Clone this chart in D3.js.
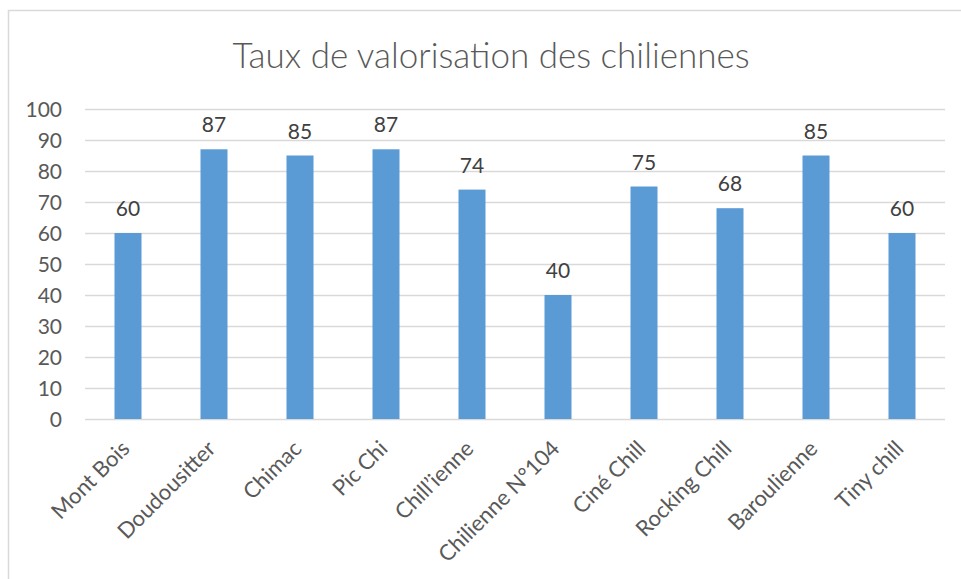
<!DOCTYPE html>
<html><head><meta charset="utf-8">
<script src="https://cdn.jsdelivr.net/npm/d3@7"></script>
<style>body{margin:0;background:#fff;} svg{display:block;}</style>
</head><body>
<svg id="chart" width="961" height="579"></svg>
<script>
const title = "Taux de valorisation des chiliennes";
const categories = ["Mont Bois","Doudousitter","Chimac","Pic Chi","Chill’ienne","Chilienne N°104","Ciné Chill","Rocking Chill","Baroulienne","Tiny chill"];
const values = [60,87,85,87,74,40,75,68,85,60];
const yTicks = [0,10,20,30,40,50,60,70,80,90,100];

(function(){
const svg = d3.select("#chart");
const font = "Lato, 'Open Sans', sans-serif";
svg.append("path").attr("d","M8.5,579 L8.5,10.5 L961,10.5").attr("fill","none").attr("stroke","#d9d9d9").attr("stroke-width",1.5);

const pLeft = 85, pRight = 945, pTop = 109, pBottom = 419;
const x = d3.scaleBand().domain(categories).range([pLeft,pRight]).paddingInner(0.686).paddingOuter(0.343);
const y = d3.scaleLinear().domain([0,100]).range([pBottom,pTop]);

svg.append("text").attr("x",491).attr("y",68).attr("text-anchor","middle")
  .attr("font-family",font).attr("font-size",35).attr("font-weight",300).attr("fill","#595959").text(title);

svg.append("g").selectAll("line").data(yTicks).join("line")
  .attr("x1",pLeft).attr("x2",pRight).attr("y1",d=>y(d)+0.5).attr("y2",d=>y(d)+0.5)
  .attr("stroke","#d9d9d9").attr("stroke-width",1.5);

const yAxis = d3.axisLeft(y).tickValues(yTicks).tickSize(0).tickPadding(0);
const gy = svg.append("g").attr("transform",`translate(62,0)`).call(yAxis);
gy.select(".domain").remove();
gy.selectAll("text").attr("font-family",font).attr("font-size",21).attr("fill","#595959").attr("dy","0.35em");

svg.append("g").selectAll("rect").data(values).join("rect")
  .attr("x",(d,i)=>x(categories[i])).attr("width",x.bandwidth())
  .attr("y",d=>y(d)).attr("height",d=>y(0)-y(d)).attr("fill","#5b9bd5");

svg.append("g").selectAll("text").data(values).join("text")
  .attr("x",(d,i)=>x(categories[i])+x.bandwidth()/2).attr("y",d=>y(d)-17)
  .attr("text-anchor","middle").attr("font-family",font).attr("font-size",21).attr("fill","#404040").text(d=>d);

const xAxis = d3.axisBottom(x).tickSize(0).tickPadding(0);
const gx = svg.append("g").attr("transform",`translate(0,${pBottom})`).call(xAxis);
gx.select(".domain").remove();
gx.selectAll("text").attr("font-family",font).attr("font-size",22).attr("fill","#595959")
  .attr("text-anchor","end").attr("dy",null).attr("y",0)
  .attr("transform","translate(3,31) rotate(-45)");
})();
</script>
</body></html>
